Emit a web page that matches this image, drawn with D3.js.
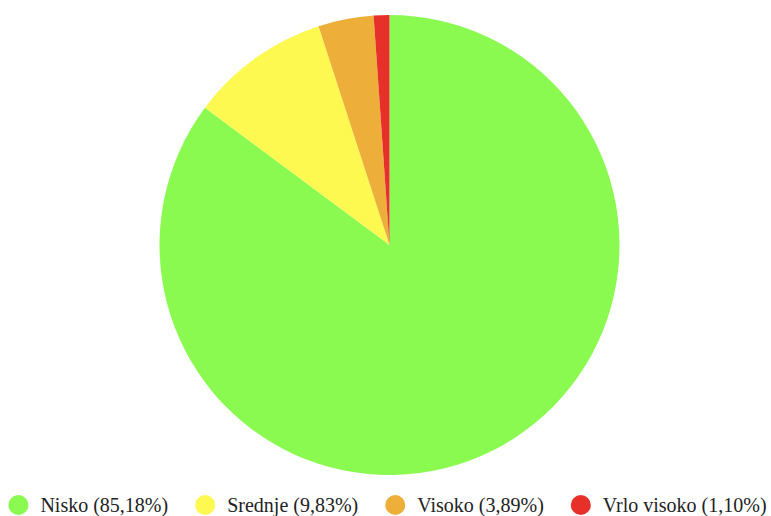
<!DOCTYPE html>
<html>
<head>
<meta charset="utf-8">
<script src="https://cdn.jsdelivr.net/npm/d3@7"></script>
<style>
  body { margin: 0; background: #fff; }
</style>
</head>
<body>
<div id="chart"></div>
<script>
//Data
const labels = ["Nisko", "Srednje", "Visoko", "Vrlo visoko"];
const values = [85.18, 9.83, 3.89, 1.10];
const colors = ["#8afa50", "#fdf950", "#eeae3a", "#e8302a"];

let width = 771, height = 516,
    cx = 389.5, cy = 245, radius = 230;

let svg = d3.select("#chart")
  .append("svg")
  .attr("width", width)
  .attr("height", height);

let color = d3.scaleOrdinal().domain(labels).range(colors);

let pie = d3.pie().sort(null).value(d => d.value);
let arc = d3.arc().innerRadius(0).outerRadius(radius);

let data = labels.map((l, i) => ({label: l, value: values[i]}));

//Draw slices
svg.append("g")
  .attr("transform", "translate(" + cx + "," + cy + ")")
  .selectAll("path")
  .data(pie(data))
  .enter().append("path")
    .attr("d", arc)
    .attr("fill", d => color(d.data.label));

//Legend - measure text then center the row
let legend = svg.append("g");
let items = legend.selectAll(".item")
  .data(data)
  .enter().append("g")
    .attr("class", "item");

items.append("circle")
  .attr("r", 10)
  .attr("cx", 10)
  .attr("cy", 0)
  .attr("fill", d => color(d.label));

items.append("text")
  .attr("x", 32)
  .attr("y", 7)
  .style("font-family", "'Times New Roman', Times, 'Liberation Serif', 'Noto Serif', 'DejaVu Serif', serif")
  .style("font-size", "20px")
  .attr("fill", "#222")
  .text(d => d.label + " (" + d3.format(".2f")(d.value).replace(".", ",") + "%)");

let gap = 27, x = 0;
items.each(function() {
  let w = 32 + d3.select(this).select("text").node().getComputedTextLength();
  d3.select(this).attr("transform", "translate(" + x + ",0)");
  x += w + gap;
});
let total = x - gap;
legend.attr("transform", "translate(" + ((width - total) / 2 + 2) + ",505)");
</script>
</body>
</html>
